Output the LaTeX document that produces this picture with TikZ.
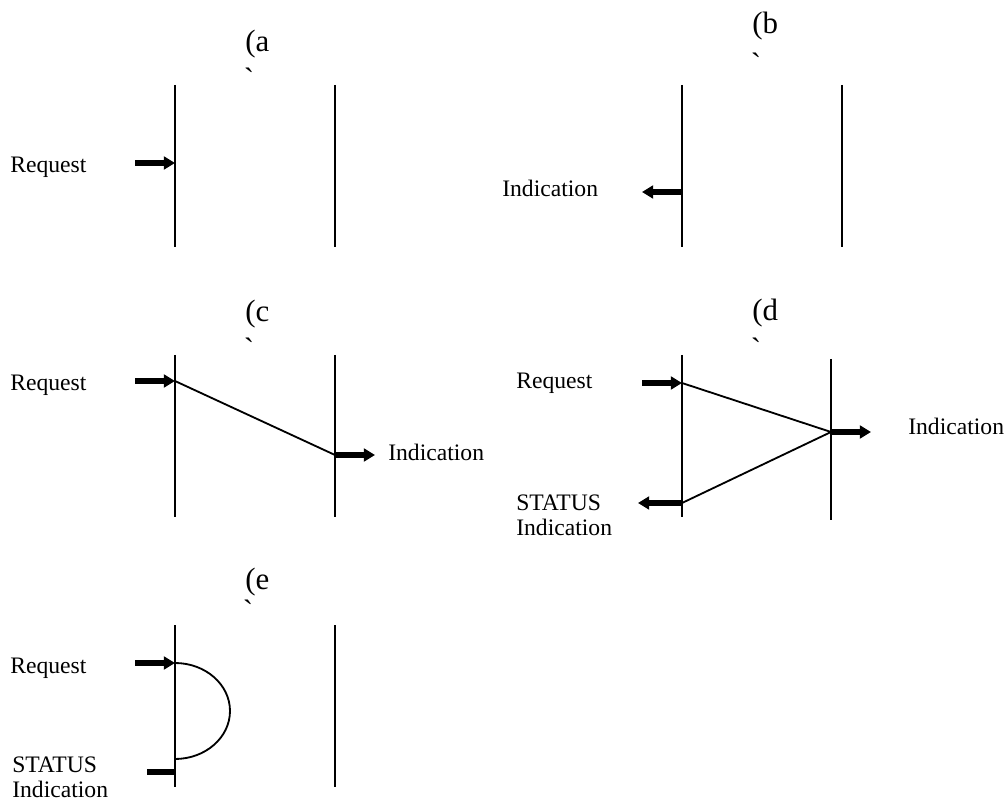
\documentclass[tikz,border=0pt]{standalone}
\usepackage{fontspec}
\setmainfont{Liberation Serif}
\usetikzlibrary{arrows.meta}
\tikzset{
  every node/.style={inner sep=0pt},
  lifeline/.style={line width=0.9pt},
  msgline/.style={line width=1.3pt},
  primarrow/.style={-{Triangle[length=0.28cm,width=0.32cm]}, line width=3.6pt},
  primbar/.style={line width=3.6pt},
  txt/.style={font=\fontsize{16.8}{17.6}\selectfont, align=left},
  caption/.style={font=\fontsize{22}{24}\selectfont, anchor=base west},
  tick/.style={font=\fontsize{22}{24}\selectfont},
}
\begin{document}
\begin{tikzpicture}[x=0.025cm,y=-0.025cm]
\useasboundingbox (0,0) rectangle (1008,800);
\node[caption] (capa) at (245,52) {(a};
\node[tick] (ticka) at (249,79) {\textasciigrave};
\coordinate (a1t) at (175,85); \coordinate (a1b) at (175,247);
\coordinate (a2t) at (335,85); \coordinate (a2b) at (335,247);
\draw[lifeline] (a1t) -- (a1b);
\draw[lifeline] (a2t) -- (a2b);
\node[txt, anchor=base west] (areq) at (10,173) {Request};
\coordinate (areqs) at (135,163); \coordinate (areqe) at (175,163);
\draw[primarrow] (areqs) -- (areqe);
\node[caption] (capb) at (752,34) {(b};
\node[tick] (tickb) at (756,64) {\textasciigrave};
\coordinate (b1t) at (682,85); \coordinate (b1b) at (682,247);
\coordinate (b2t) at (842,85); \coordinate (b2b) at (842,247);
\draw[lifeline] (b1t) -- (b1b);
\draw[lifeline] (b2t) -- (b2b);
\node[txt, anchor=base west] (bind) at (502,197) {Indication};
\coordinate (binds) at (682,192); \coordinate (binde) at (642,192);
\draw[primarrow] (binds) -- (binde);
\node[caption] (capc) at (245,322) {(c};
\node[tick] (tickc) at (249,349) {\textasciigrave};
\coordinate (c1t) at (175,355); \coordinate (c1b) at (175,517);
\coordinate (c2t) at (335,355); \coordinate (c2b) at (335,517);
\draw[lifeline] (c1t) -- (c1b);
\draw[lifeline] (c2t) -- (c2b);
\node[txt, anchor=base west] (creq) at (10,391) {Request};
\coordinate (creqs) at (135,381); \coordinate (creqe) at (175,381);
\draw[primarrow] (creqs) -- (creqe);
\coordinate (cinds) at (335,455); \coordinate (cinde) at (375,455);
\draw[msgline] (creqe) -- (cinds);
\draw[primarrow] (cinds) -- (cinde);
\node[txt, anchor=base west] (cind) at (388,461) {Indication};
\node[caption] (capd) at (752,321) {(d};
\node[tick] (tickd) at (756,349) {\textasciigrave};
\coordinate (d1t) at (682,355); \coordinate (d1b) at (682,517);
\coordinate (d2t) at (831,359); \coordinate (d2b) at (831,520);
\draw[lifeline] (d1t) -- (d1b);
\draw[lifeline] (d2t) -- (d2b);
\node[txt, anchor=base west] (dreq) at (516,389) {Request};
\coordinate (dreqs) at (642,383); \coordinate (dreqe) at (682,383);
\draw[primarrow] (dreqs) -- (dreqe);
\coordinate (dinds) at (831,432); \coordinate (dinde) at (871,432);
\coordinate (dstas) at (682,503); \coordinate (dstae) at (638,503);
\draw[msgline] (dreqe) -- (dinds) -- (dstas);
\draw[primarrow] (dinds) -- (dinde);
\draw[primarrow] (dstas) -- (dstae);
\node[txt, anchor=base west] (dind) at (908,435) {Indication};
\node[txt, anchor=north west] (dsta) at (516,495) {STATUS\\Indication};
\node[caption] (cape) at (245,589) {(e};
\node[tick] (ticke) at (248,611) {\textasciigrave};
\coordinate (e1t) at (175,625); \coordinate (e1b) at (175,787);
\coordinate (e2t) at (335,625); \coordinate (e2b) at (335,787);
\draw[lifeline] (e1t) -- (e1b);
\draw[lifeline] (e2t) -- (e2b);
\node[txt, anchor=base west] (ereq) at (10,673) {Request};
\coordinate (ereqs) at (135,663); \coordinate (ereqe) at (175,663);
\draw[primarrow] (ereqs) -- (ereqe);
\draw[msgline] (ereqe) arc[start angle=-90, end angle=90, x radius=55, y radius=48];
\coordinate (estas) at (175,772); \coordinate (estae) at (147,772);
\draw[primbar] (estas) -- (estae);
\node[txt, anchor=north west] (esta) at (12,757) {STATUS\\Indication};
\end{tikzpicture}
\end{document}
